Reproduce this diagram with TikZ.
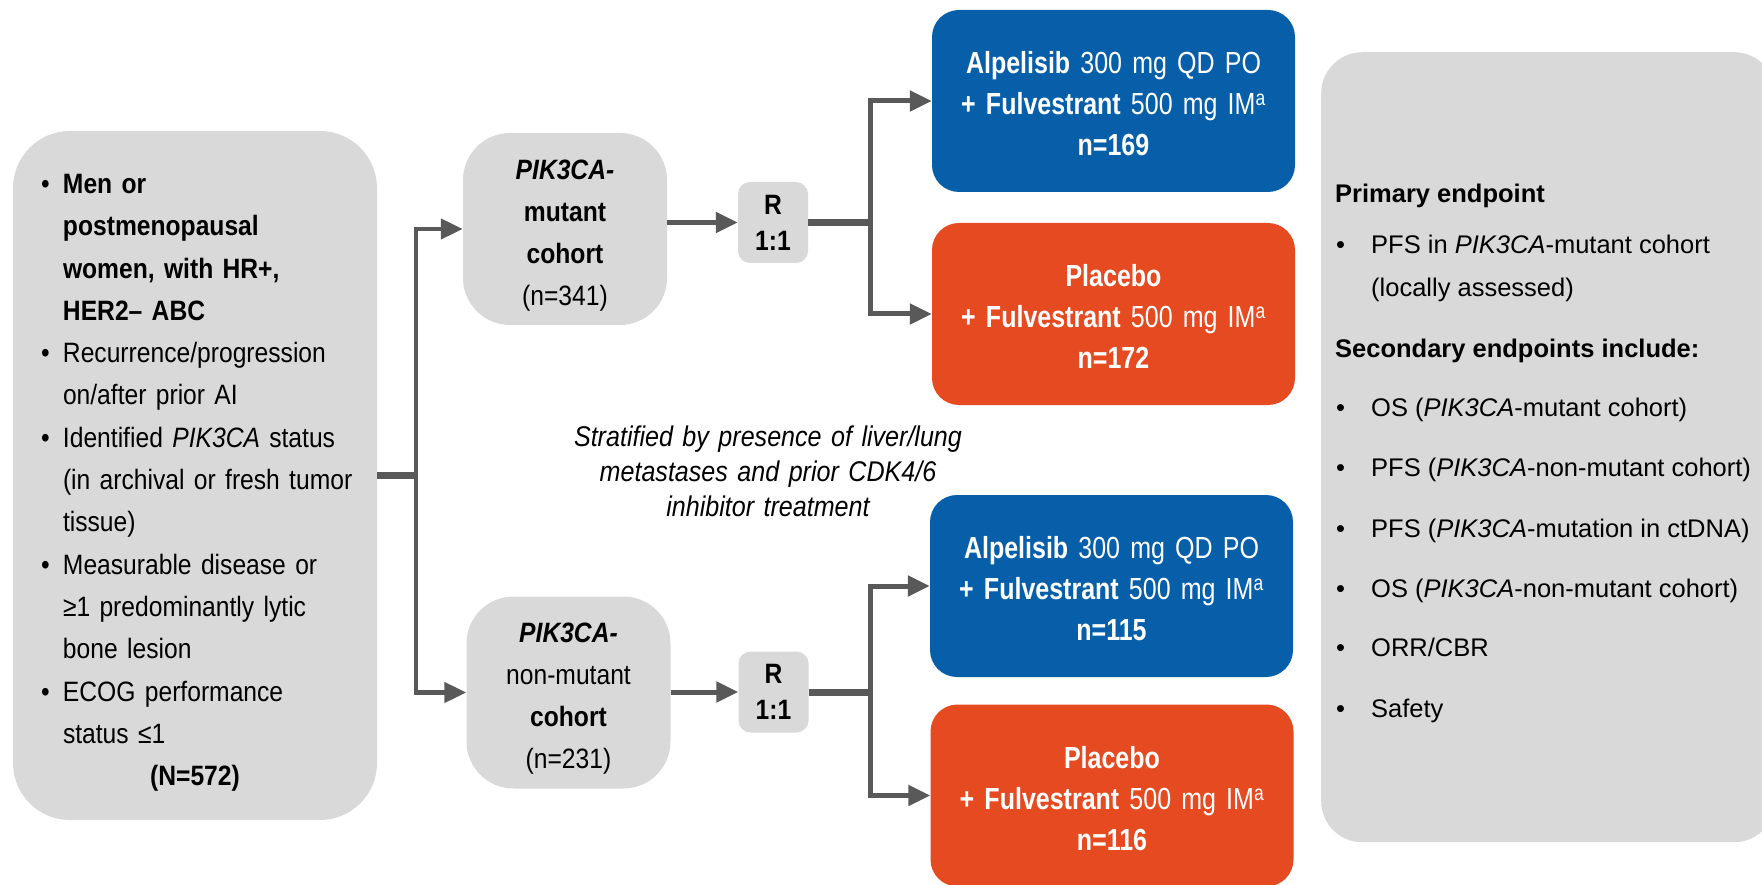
\documentclass[tikz,border=0pt]{standalone}
\usepackage{fontspec}
\setmainfont{Liberation Sans}
\newfontfamily\narrowA[FakeStretch=0.88]{Liberation Sans}
\newfontfamily\narrowB[FakeStretch=0.82]{Liberation Sans}
\usetikzlibrary{arrows.meta}
\setlength\parindent{0pt}
\definecolor{boxgray}{RGB}{217,217,217}
\definecolor{arrowgray}{RGB}{89,89,89}
\definecolor{armblue}{RGB}{6,95,168}
\definecolor{armorange}{RGB}{229,74,33}
\newcommand{\elfont}{\narrowA\fontsize{28pt}{42.3pt}\selectfont}
\newcommand{\cohfont}{\narrowA\fontsize{28pt}{42pt}\selectfont}
\newcommand{\rfont}{\narrowA\bfseries\fontsize{28pt}{36pt}\selectfont}
\newcommand{\armfont}{\narrowB\fontsize{30.5pt}{41pt}\selectfont}
\newcommand{\stratfont}{\narrowA\itshape\fontsize{28.5pt}{35pt}\selectfont}
\newcommand{\epfont}{\fontsize{25.5pt}{30pt}\selectfont}
\newcommand{\bul}[1]{\mbox{\makebox[22pt][l]{\textbullet}#1}}
\newcommand{\ind}[1]{\mbox{\hspace*{22pt}#1}}
\newcommand{\bulR}{\makebox[35pt][l]{\textbullet}}
\tikzset{
  graybox/.style={fill=boxgray, draw=none},
  cohortbox/.style={graybox, rounded corners=47pt, minimum width=204pt, minimum height=192pt,
    text width=190pt, align=center, font=\cohfont, inner sep=0pt},
  rbox/.style={graybox, rounded corners=12pt, minimum width=70pt, minimum height=81pt,
    text width=60pt, align=center, font=\rfont, inner sep=0pt},
  armbox/.style={rounded corners=27pt, minimum width=363pt, minimum height=182pt,
    text width=350pt, align=center, font=\armfont, text=white, inner sep=0pt, draw=none},
  bluearm/.style={armbox, fill=armblue},
  orangearm/.style={armbox, fill=armorange},
  conn/.style={draw=arrowgray, line width=5pt},
  thickconn/.style={draw=arrowgray, line width=7pt},
  arr/.style={conn, -{Triangle[length=22pt,width=20pt]}},
  eptext/.style={anchor=base west, inner sep=0pt, font=\epfont}
}
\begin{document}
\begin{tikzpicture}[x=1pt,y=-1pt]
\useasboundingbox (0,0) rectangle (1762,885);
\clip (0,0) rectangle (1762,885);

% eligibility box
\node[graybox, rounded corners=57pt, minimum width=364pt, minimum height=689pt,
  text width=308pt, align=left, font=\elfont, inner sep=0pt] (elig) at (195,475.5) {%
\rule{0pt}{34pt}\bul{\textbf{Men or}}\\
\ind{\textbf{postmenopausal}}\\
\ind{\textbf{women, with HR+,}}\\
\ind{\textbf{HER2– ABC}}\\
\bul{Recurrence/progression}\\
\ind{on/after prior AI}\\
\bul{Identified \textit{PIK3CA} status}\\
\ind{(in archival or fresh tumor}\\
\ind{tissue)}\\
\bul{Measurable disease or}\\
\ind{≥1 predominantly lytic}\\
\ind{bone lesion}\\
\bul{ECOG performance}\\
\ind{status ≤1}\\
\makebox[308pt]{\textbf{(N=572)}}};

% cohorts
\node[cohortbox] (mut) at (565,229) {\rule{0pt}{32pt}\textbf{\textit{PIK3CA-}}\\\textbf{mutant}\\\textbf{cohort}\\(n=341)};
\node[cohortbox] (nonmut) at (568.5,692.5) {\rule{0pt}{32pt}\textbf{\textit{PIK3CA-}}\\non-mutant\\\textbf{cohort}\\(n=231)};

% randomisation
\node[rbox] (r1) at (773,222.5) {R\\1:1};
\node[rbox] (r2) at (773.5,692) {R\\1:1};

% arms
\node[bluearm] (b1) at (1113.5,101) {\rule{0pt}{28pt}\textbf{Alpelisib} 300 mg QD PO\\\textbf{+ Fulvestrant} 500 mg IM\textsuperscript{a}\\\textbf{n=169}};
\node[orangearm] (o1) at (1113.5,314) {\rule{0pt}{28pt}\textbf{Placebo}\\\textbf{+ Fulvestrant} 500 mg IM\textsuperscript{a}\\\textbf{n=172}};
\node[bluearm] (b2) at (1111.5,586) {\rule{0pt}{28pt}\textbf{Alpelisib} 300 mg QD PO\\\textbf{+ Fulvestrant} 500 mg IM\textsuperscript{a}\\\textbf{n=115}};
\node[orangearm] (o2) at (1112,795.5) {\rule{0pt}{28pt}\textbf{Placebo}\\\textbf{+ Fulvestrant} 500 mg IM\textsuperscript{a}\\\textbf{n=116}};

% stratification note
\node[font=\stratfont, text width=420pt, align=center, inner sep=0pt] (strat) at (768,471)
  {Stratified by presence of liver/lung\\metastases and prior CDK4/6\\inhibitor treatment};

% endpoints panel
\node[graybox, rounded corners=41pt, minimum width=454pt, minimum height=790pt,
  anchor=north west, inner sep=0pt] (ep) at (1321,52) {};
\node[eptext] (ep1) at (1335,203) {\textbf{Primary endpoint}};
\node[eptext] (ep2) at (1336,254) {\bulR PFS in \textit{PIK3CA}-mutant cohort};
\node[eptext] (ep3) at (1371,297) {(locally assessed)};
\node[eptext] (ep4) at (1335,358) {\textbf{Secondary endpoints include:}};
\node[eptext] (ep5) at (1336,416) {\bulR OS (\textit{PIK3CA}-mutant cohort)};
\node[eptext] (ep6) at (1336,476) {\bulR PFS (\textit{PIK3CA}-non-mutant cohort)};
\node[eptext] (ep7) at (1336,537) {\bulR PFS (\textit{PIK3CA}-mutation in ctDNA)};
\node[eptext] (ep8) at (1336,597) {\bulR OS (\textit{PIK3CA}-non-mutant cohort)};
\node[eptext] (ep9) at (1336,656) {\bulR ORR/CBR};
\node[eptext] (ep10) at (1336,717) {\bulR Safety};

% connectors
\coordinate (j1) at (416,475.5);
\coordinate (j2) at (870,222.5);
\coordinate (j3) at (870,692);
\draw[thickconn] (elig.east) -- (j1);
\draw[arr, line width=4.5pt] (j1) |- (mut.west);
\draw[arr, line width=4.5pt] (j1) |- (nonmut.west);
\draw[arr] (mut.east |- r1) -- (r1.west);
\draw[arr] (nonmut.east |- r2) -- (r2.west);
\draw[thickconn] (r1.east) -- (j2);
\draw[arr] (j2) |- (b1.west);
\draw[arr] (j2) |- (o1.west);
\draw[thickconn] (r2.east) -- (j3);
\draw[arr] (j3) |- (b2.west);
\draw[arr] (j3) |- (o2.west);
\end{tikzpicture}
\end{document}
